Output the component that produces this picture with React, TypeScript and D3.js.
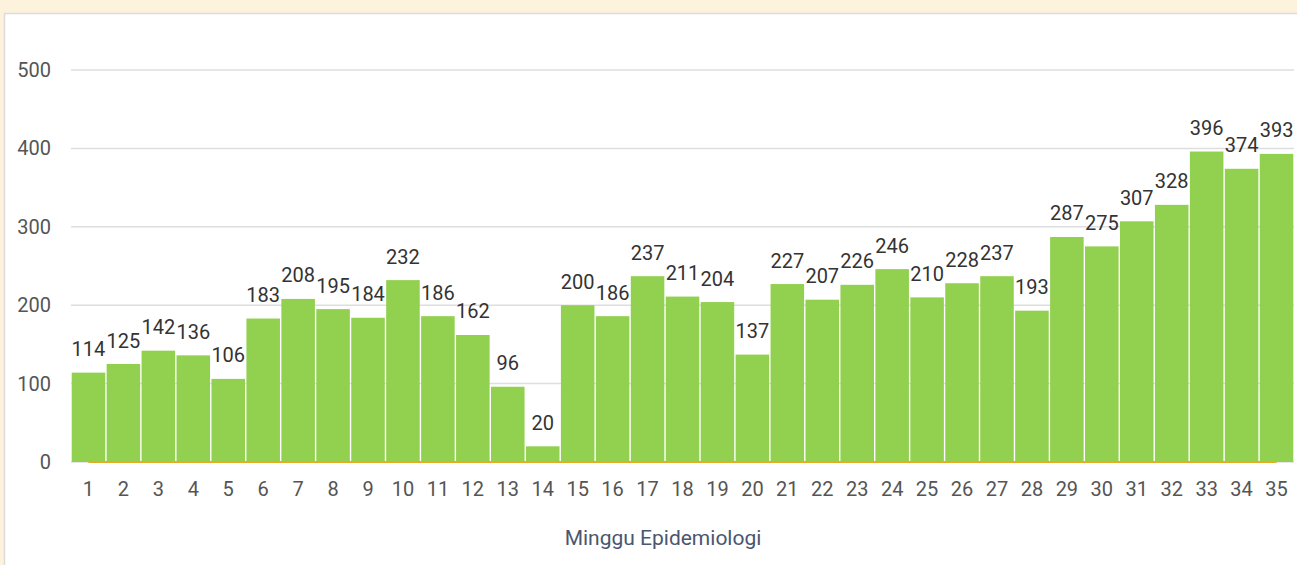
import React from 'react';
import * as d3 from 'd3';

const weeks = d3.range(1, 36).map(String);
const cases = [114, 125, 142, 136, 106, 183, 208, 195, 184, 232, 186, 162, 96, 20, 200, 186, 237, 211, 204, 137,
  227, 207, 226, 246, 210, 228, 237, 193, 287, 275, 307, 328, 396, 374, 393];
const yTicks = [0, 100, 200, 300, 400, 500];
const axisTitle = 'Minggu Epidemiologi';

const W = 1297;
const H = 565;
const margin = { top: 70, right: 3, bottom: 103, left: 71 };
const font = 'Roboto, "Noto Sans", sans-serif';

export default function App() {
  const x = d3.scaleBand()
    .domain(weeks)
    .range([margin.left, W - margin.right])
    .paddingInner(0.04)
    .paddingOuter(0.02);

  const y = d3.scaleLinear()
    .domain([0, 500])
    .range([H - margin.bottom, margin.top]);

  const half = x.bandwidth() / 2;
  const first = x(weeks[0])! + half;
  const last = x(weeks[weeks.length - 1])! + half;

  return (
    <svg width={W} height={H} style={{ position: 'absolute', left: 0, top: 0 }}>
      <rect x={0} y={0} width={W} height={H} fill="#fdf2dc" />
      <rect x={4.5} y={13.5} width={W} height={H} fill="#fff" stroke="#dcdcdc" strokeWidth={1.5} />

      {/* grid */}
      {yTicks.map(t => (
        <g key={t}>
          <line x1={margin.left} x2={W - margin.right} y1={y(t)} y2={y(t)} stroke="#dedede" strokeWidth={1.5} />
          <text x={51} y={y(t)} dy="0.35em" textAnchor="end" fontFamily={font} fontSize={20} fill="#555">{t}</text>
        </g>
      ))}

      {/* bars */}
      {cases.map((v, i) => (
        <rect key={i} x={x(weeks[i])} y={y(v)} width={x.bandwidth()} height={y(0) - y(v)} fill="#92d050" />
      ))}

      {/* baseline series */}
      <line x1={first} x2={last} y1={y(0)} y2={y(0)} stroke="#e8ab22" strokeWidth={2} />

      {/* value labels */}
      {cases.map((v, i) => (
        <text key={i} x={x(weeks[i])! + half} y={y(v) - 16.5} textAnchor="middle" fontFamily={font} fontSize={20} fill="#333">{v}</text>
      ))}

      {/* x ticks */}
      {weeks.map(w => (
        <text key={w} x={x(w)! + half} y={489} dy="0.35em" textAnchor="middle" fontFamily={font} fontSize={20} fill="#555">{w}</text>
      ))}

      <text x={663} y={538} dy="0.35em" textAnchor="middle" fontFamily={font} fontSize={21} fill="#4a5670">{axisTitle}</text>
    </svg>
  );
}
